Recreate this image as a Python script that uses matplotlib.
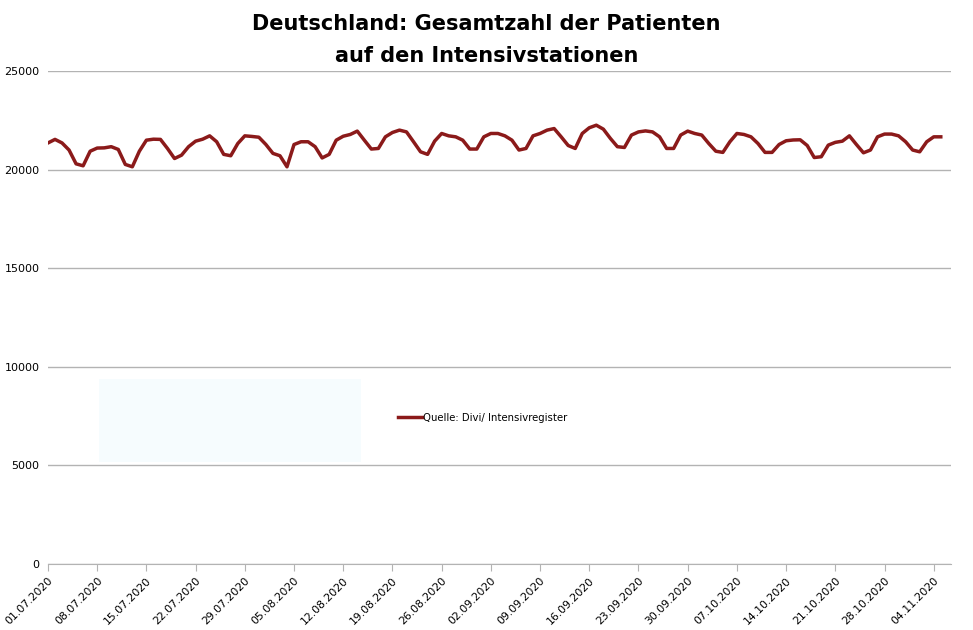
import matplotlib
matplotlib.use("Agg")
import matplotlib.pyplot as plt
import matplotlib.dates as mdates
from matplotlib.patches import Rectangle
import pandas as pd

start_date = "2020-07-01"
patients = [
    21360, 21540, 21360, 21000, 20300, 20200, 20940, 21100, 21110, 21170,
    21030, 20270, 20150, 20940, 21500, 21550, 21540, 21080, 20570, 20740,
    21170, 21450, 21550, 21720, 21420, 20780, 20710, 21330, 21720, 21690,
    21650, 21280, 20830, 20710, 20150, 21280, 21420, 21420, 21170, 20600,
    20780, 21500, 21700, 21790, 21960, 21500, 21050, 21080, 21670, 21890,
    22010, 21920, 21420, 20910, 20780, 21450, 21840, 21720, 21670, 21500,
    21050, 21050, 21670, 21840, 21840, 21720, 21500, 21000, 21080, 21720,
    21840, 22010, 22090, 21670, 21230, 21080, 21840, 22130, 22260, 22060,
    21590, 21170, 21130, 21760, 21920, 21970, 21920, 21670, 21080, 21080,
    21760, 21960, 21840, 21760, 21330, 20940, 20880, 21420, 21840, 21790,
    21670, 21330, 20880, 20880, 21280, 21470, 21510, 21520, 21230, 20620,
    20660, 21250, 21390, 21450, 21720, 21280, 20860, 21000, 21670, 21810,
    21810, 21720, 21420, 21000, 20910, 21420, 21670, 21670,
]
dates = pd.date_range(start_date, periods=len(patients), freq="D")
tick_dates = pd.date_range(start_date, "2020-11-04", freq="7D")
y_ticks = [0, 5000, 10000, 15000, 20000, 25000]

title = "Deutschland: Gesamtzahl der Patienten\nauf den Intensivstationen"
legend_label = "Quelle: Divi/ Intensivregister"

fig = plt.figure(figsize=(9.73, 6.3), dpi=100)
ax = fig.add_axes([0.0493, 0.1048, 0.9277, 0.7822])

ax.plot(dates, patients, color="#8b1a1a", linewidth=2.5, label=legend_label)

ax.set_ylim(0, 25000)
ax.set_xlim(dates[0], dates[0] + pd.Timedelta(days=128.4))
ax.set_yticks(y_ticks)
ax.set_xticks(tick_dates)
ax.xaxis.set_major_formatter(mdates.DateFormatter("%d.%m.%Y"))
ax.grid(axis="y", color="#b3b3b3", linewidth=1)
ax.set_axisbelow(True)

for side in ["left", "right", "top"]:
    ax.spines[side].set_visible(False)
ax.spines["bottom"].set_color("#b3b3b3")
ax.tick_params(axis="y", length=0, labelsize=8, pad=6)
ax.tick_params(axis="x", length=5, color="#b3b3b3", labelsize=7.8)
for lbl in ax.get_xticklabels():
    lbl.set_rotation(45)
    lbl.set_ha("right")
    lbl.set_rotation_mode("anchor")

# faint box left of the legend
ax.add_patch(Rectangle((0.057, 0.206), 0.29, 0.17, transform=ax.transAxes,
                       facecolor="#f6fcfe", edgecolor="none", zorder=0))

ax.legend(loc="center left", bbox_to_anchor=(0.378, 0.297), frameon=False,
          fontsize=7.3, handlelength=2.3, handletextpad=0.15)

fig.suptitle(title, y=0.977, fontsize=15, fontweight="heavy",
             linespacing=1.75)

fig.savefig("out.png", dpi=100)
